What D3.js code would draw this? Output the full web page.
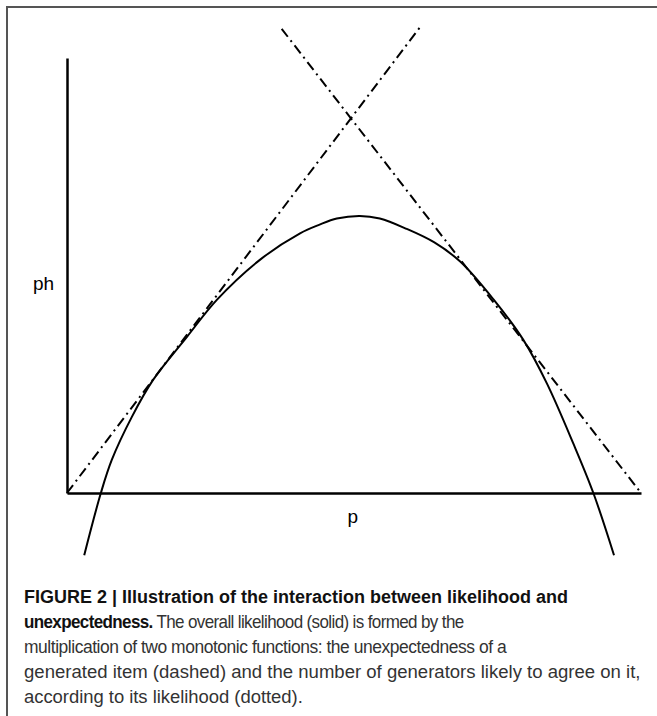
<!DOCTYPE html>
<html>
<head>
<meta charset="utf-8">
<script src="https://cdn.jsdelivr.net/npm/d3@7"></script>
<style>
  body { margin: 0; background: #fff; }
  svg { display: block; }
</style>
</head>
<body>
<script>
// values (p on the x axis, ph on the y axis, axis box = 0..1)
var curveP  = [0.030, 0.059, 0.078, 0.113, 0.150, 0.209, 0.261, 0.336, 0.406, 0.440, 0.470, 0.510, 0.545, 0.592, 0.640, 0.685, 0.743, 0.795, 0.836, 0.882, 0.917, 0.953];
var curvePh = [-0.143, 0, 0.076, 0.175, 0.260, 0.359, 0.444, 0.536, 0.597, 0.617, 0.631, 0.637, 0.631, 0.607, 0.576, 0.532, 0.445, 0.352, 0.252, 0.114, 0, -0.143];

var risingP   = [0, 0.618];
var risingPh  = [0, 1.076];
var fallingP  = [0.374, 1];
var fallingPh = [1.067, 0];

var xLabel = "p", yLabel = "ph";

var captionLines = [
  [{t: "FIGURE 2 | Illustration of the interaction between likelihood and", b: true}],
  [{t: "unexpectedness.", b: true}, {t: " The overall likelihood (solid) is formed by the", b: false}],
  [{t: "multiplication of two monotonic functions: the unexpectedness of a", b: false}],
  [{t: "generated item (dashed) and the number of generators likely to agree on it,", b: false}],
  [{t: "according to its likelihood (dotted).", b: false}]
];
var captionWidths = [544, 440, 483, 617, 279];

var W = 657, H = 716;
var margin = {top: 58, right: 16, bottom: 223, left: 67},
    width = W - margin.left - margin.right,
    height = H - margin.top - margin.bottom;

var svg = d3.select("body").append("svg")
    .attr("width", W)
    .attr("height", H);

// frame of the figure panel
svg.append("path")
    .attr("d", "M7," + H + "V7H" + W)
    .attr("fill", "none")
    .attr("stroke", "#555")
    .attr("stroke-width", 2);

var g = svg.append("g")
    .attr("transform", "translate(" + margin.left + "," + margin.top + ")");

var x = d3.scaleLinear().domain([0, 1]).range([0, width]);
var y = d3.scaleLinear().domain([0, 1]).range([height, 0]);

g.append("g")
    .attr("class", "x axis")
    .attr("transform", "translate(0," + height + ")")
    .call(d3.axisBottom(x).tickValues([]).tickSizeOuter(0));

g.append("g")
    .attr("class", "y axis")
    .call(d3.axisLeft(y).tickValues([]).tickSizeOuter(0));

g.selectAll(".axis path")
    .attr("stroke", "#000")
    .attr("stroke-width", 2.5);

var line = d3.line()
    .x(function(d) { return x(d[0]); })
    .y(function(d) { return y(d[1]); });

// the two monotonic functions (dash-dot)
[[risingP, risingPh], [fallingP, fallingPh]].forEach(function(s) {
  g.append("path")
      .datum(d3.zip(s[0], s[1]))
      .attr("d", line)
      .attr("fill", "none")
      .attr("stroke", "#000")
      .attr("stroke-width", 2)
      .attr("stroke-dasharray", "10,4.5,2,4.5");
});

// overall likelihood (solid)
g.append("path")
    .datum(d3.zip(curveP, curvePh))
    .attr("d", line.curve(d3.curveCatmullRom.alpha(0.5)))
    .attr("fill", "none")
    .attr("stroke", "#000")
    .attr("stroke-width", 2);

g.append("text")
    .attr("x", x(0.498))
    .attr("y", height + 30)
    .attr("text-anchor", "middle")
    .attr("font-family", "Liberation Sans, Arial, sans-serif")
    .attr("font-size", 19)
    .text(xLabel);

g.append("text")
    .attr("x", -34)
    .attr("y", y(0.467))
    .attr("font-family", "Liberation Sans, Arial, sans-serif")
    .attr("font-size", 19)
    .text(yLabel);

// caption: glyph squeeze shared by the regular lines, the rest of the fit via letter-spacing
var cap = svg.append("g")
    .attr("font-family", "Liberation Sans Narrow, Liberation Sans, Arial, sans-serif")
    .attr("font-size", 18.5);

var texts = captionLines.map(function(parts) {
  var t = cap.append("text")
      .attr("x", 0)
      .attr("y", 0);
  parts.forEach(function(p) {
    t.append("tspan")
        .attr("font-weight", p.b ? "bold" : "normal")
        .attr("fill", p.b ? "#111" : "#333")
        .text(p.t);
  });
  return t;
});

var sx = captionWidths[3] / texts[3].node().getBBox().width;
texts.forEach(function(t, i) {
  var w0 = t.node().getBBox().width,
      n = t.text().length,
      s = i === 0 ? captionWidths[0] / w0 : sx * Math.sqrt(captionWidths[i] / (w0 * sx)),
      ls = (captionWidths[i] / s - w0) / n;
  t.attr("letter-spacing", ls)
   .attr("transform", "translate(24," + (603 + i * 25) + ") scale(" + s + ",1)");
});
</script>
</body>
</html>
